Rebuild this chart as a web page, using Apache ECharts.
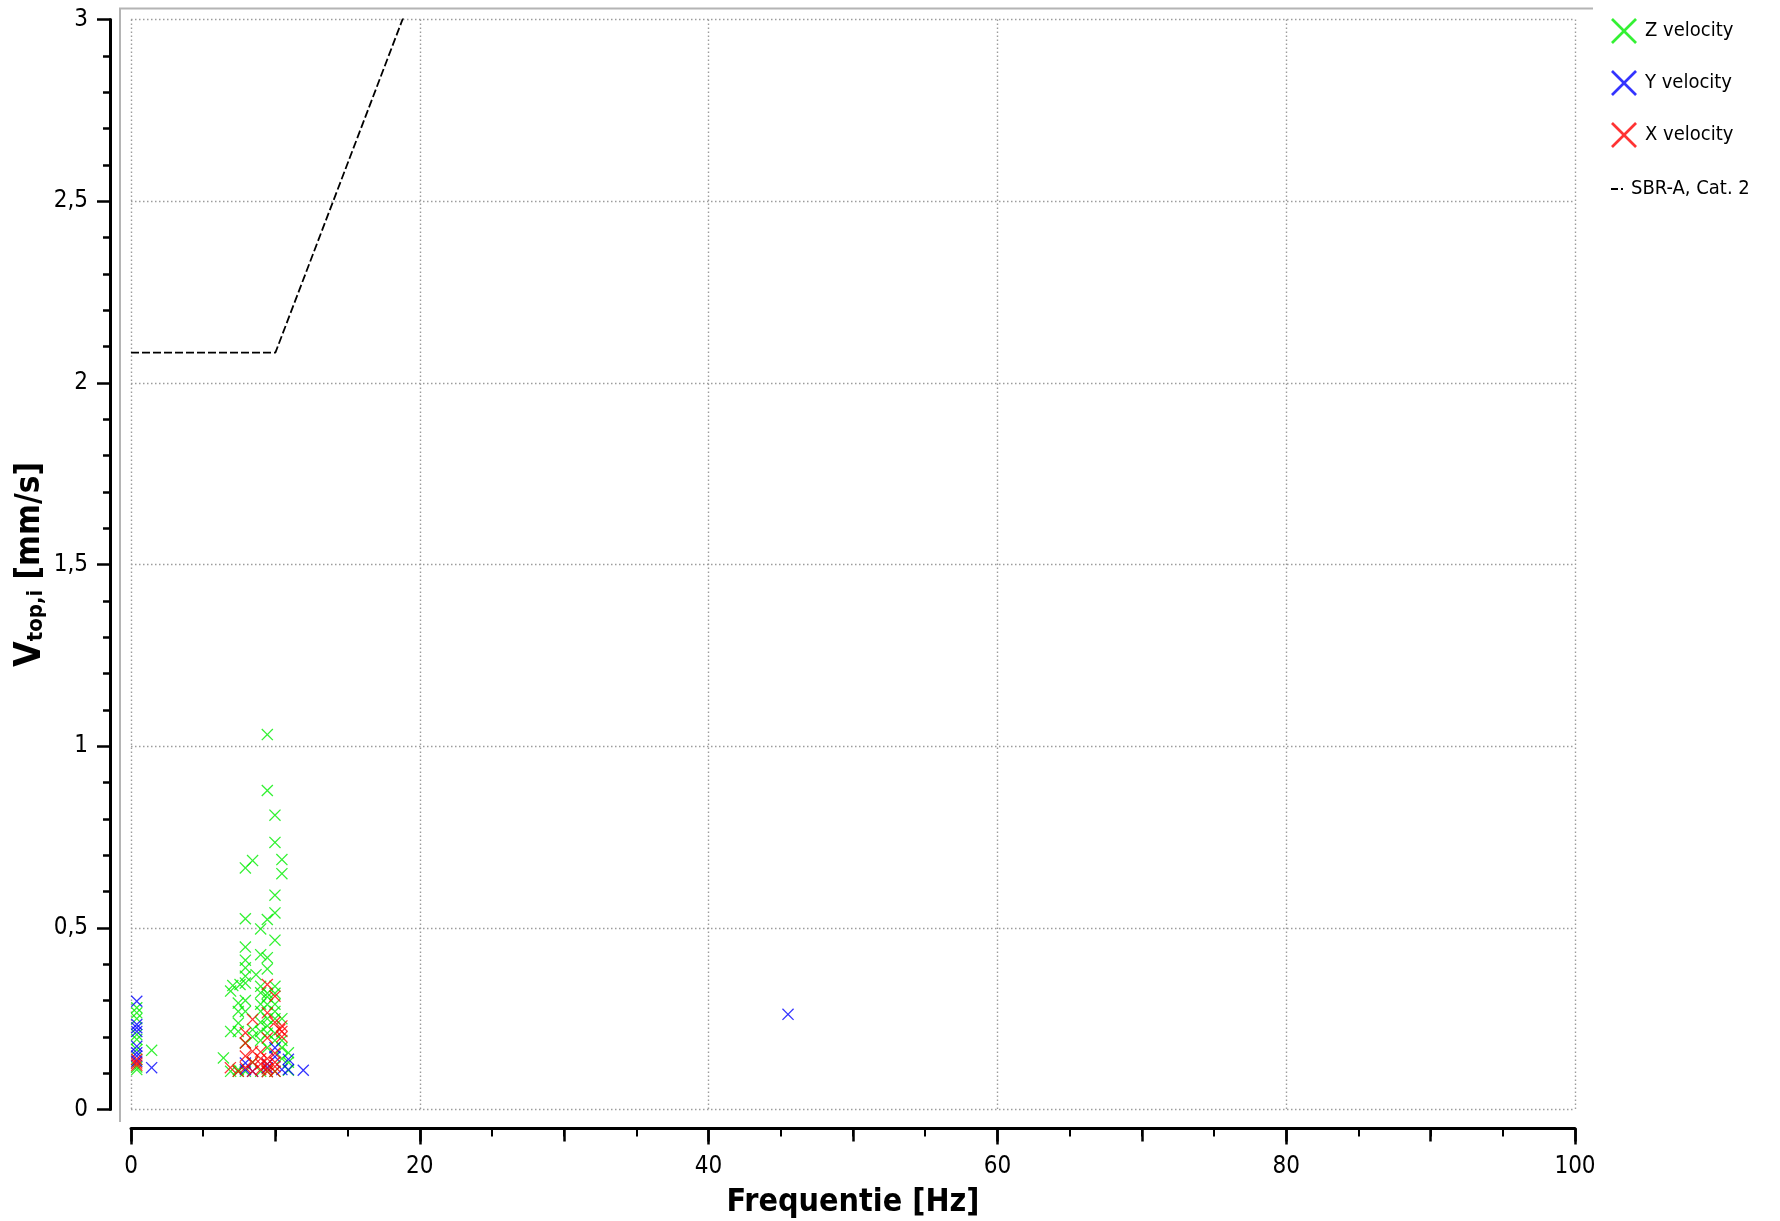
<!DOCTYPE html>
<html>
<head>
<meta charset="utf-8">
<script src="https://cdn.jsdelivr.net/npm/echarts@6.0.0/dist/echarts.min.js"></script>
<style>
    body { margin: 0; background: #fff; }
    #chart { width: 1780px; height: 1221px; }
</style>
</head>
<body>
<div id="chart"></div>
<script>
    // [frequency Hz, peak velocity mm/s]
    const zVelocity = [
        [0.4, 0.280], [0.4, 0.266], [0.4, 0.250], [0.4, 0.206], [0.4, 0.193], [0.4, 0.165], [0.4, 0.117], [0.4, 0.110], [1.43, 0.163],
        [6.4, 0.142],
        [6.9, 0.326], [6.9, 0.215], [6.9, 0.105], [7.05, 0.341],
        [7.43, 0.293], [7.43, 0.270], [7.43, 0.238], [7.43, 0.215], [7.43, 0.110], [7.55, 0.344], [7.43, 0.105],
        [7.92, 0.665], [7.92, 0.525], [7.92, 0.447], [7.92, 0.411], [7.92, 0.390], [7.92, 0.367], [7.92, 0.348], [7.92, 0.300], [7.92, 0.270], [7.92, 0.183], [7.92, 0.105],
        [8.42, 0.685], [8.42, 0.200], [8.42, 0.220], [8.42, 0.130], [8.66, 0.371],
        [8.98, 0.497], [8.98, 0.426], [8.98, 0.339], [8.98, 0.321], [8.98, 0.290], [8.98, 0.270], [8.98, 0.240], [8.98, 0.215], [8.98, 0.190], [8.98, 0.105],
        [9.44, 1.032], [9.44, 0.878], [9.44, 0.523], [9.44, 0.418], [9.44, 0.387], [9.44, 0.320], [9.44, 0.310], [9.44, 0.289], [9.44, 0.250], [9.44, 0.230], [9.44, 0.210], [9.44, 0.170], [9.44, 0.105],
        [9.97, 0.810], [9.97, 0.735], [9.97, 0.590], [9.97, 0.541], [9.97, 0.466], [9.97, 0.339], [9.97, 0.320], [9.97, 0.290], [9.97, 0.270], [9.97, 0.250], [9.97, 0.210], [9.97, 0.190], [9.97, 0.105],
        [10.45, 0.688], [10.45, 0.649], [10.45, 0.250], [10.45, 0.190], [10.45, 0.170], [10.45, 0.140],
        [10.9, 0.156], [10.9, 0.108], [10.9, 0.130]
    ];
    const yVelocity = [
        [0.4, 0.298], [0.4, 0.234], [0.4, 0.225], [0.4, 0.215], [0.4, 0.174], [0.4, 0.156], [0.4, 0.147], [0.4, 0.133], [1.43, 0.115],
        [7.92, 0.128], [7.92, 0.110], [8.42, 0.105], [9.44, 0.115], [9.44, 0.125], [9.97, 0.170], [9.97, 0.145],
        [10.45, 0.110], [10.9, 0.138], [10.9, 0.110], [11.93, 0.108],
        [45.5, 0.262]
    ];
    const xVelocity = [
        [0.4, 0.138], [0.4, 0.128], [0.4, 0.122],
        [6.88, 0.115], [7.43, 0.105],
        [7.92, 0.211], [7.92, 0.183], [7.92, 0.147], [7.92, 0.115],
        [8.42, 0.248], [8.42, 0.160], [8.42, 0.130], [8.42, 0.105],
        [8.98, 0.158], [8.98, 0.140], [8.98, 0.125], [8.98, 0.110],
        [9.44, 0.344], [9.44, 0.266], [9.44, 0.197], [9.44, 0.140], [9.44, 0.125], [9.44, 0.112], [9.44, 0.104],
        [9.97, 0.312], [9.97, 0.240], [9.97, 0.155], [9.97, 0.130], [9.97, 0.118], [9.97, 0.105],
        [10.3, 0.220], [10.45, 0.230], [10.45, 0.215], [10.45, 0.200]
    ];
    // SBR-A guideline, category 2
    const sbrLine = [[0, 2.083], [10, 2.083], [50, 6.25], [100, 6.25]];

    const seriesNames = ['Z velocity', 'Y velocity', 'X velocity', 'SBR-A, Cat. 2'];

    const FONT = "'DejaVu Sans Condensed', 'DejaVu Sans', sans-serif";
    const CROSS = 'path://M0,0.75L0.75,0L5,4.25L9.25,0L10,0.75L5.75,5L10,9.25L9.25,10L5,5.75L0.75,10L0,9.25L4.25,5Z';
    const DASH_ICON = 'path://M0,0h7v2h-7zM10,0h2v2h-2z';

    const gridBox = { left: 131, top: 19.5, width: 1444, height: 1090, outerBoundsMode: 'none' };
    const gridDots = { color: '#9c9c9c', width: 1.4, type: [1.5, 2.5] };

    let chart = echarts.init(document.getElementById('chart'));

    let option = {
        animation: false,
        textStyle: { fontFamily: FONT },
        grid: [
            Object.assign({}, gridBox),
            Object.assign({}, gridBox)
        ],
        graphic: [{
            type: 'polyline',
            silent: true,
            shape: { points: [[120, 1122], [120, 8.5], [1593, 8.5]] },
            style: { stroke: '#b4b4b4', lineWidth: 2, fill: null }
        }],
        legend: [{
            data: seriesNames.slice(0, 3),
            orient: 'vertical',
            left: 1611,
            top: 18,
            padding: 0,
            itemWidth: 26,
            itemHeight: 26,
            itemGap: 26,
            textStyle: { fontFamily: FONT, fontSize: 20, color: '#000', padding: [0, 0, 0, 3] }
        }, {
            data: [{ name: seriesNames[3], icon: DASH_ICON }],
            orient: 'vertical',
            left: 1611,
            top: 179,
            padding: 0,
            itemWidth: 12,
            itemHeight: 14,
            textStyle: { fontFamily: FONT, fontSize: 20, color: '#000', padding: [0, 0, 0, 3] }
        }],
        xAxis: [{
            type: 'value',
            gridIndex: 0,
            min: 0,
            max: 100,
            interval: 20,
            offset: 19,
            name: 'Frequentie [Hz]',
            nameLocation: 'middle',
            nameGap: 58,
            nameTextStyle: { fontFamily: FONT, fontSize: 32, fontWeight: 'bold', color: '#000' },
            axisLine: { onZero: false, lineStyle: { color: '#000', width: 3 } },
            axisTick: { length: 16, lineStyle: { color: '#000', width: 2.5 } },
            minorTick: { show: true, splitNumber: 4, length: 8, lineStyle: { color: '#000', width: 2 } },
            axisLabel: { fontFamily: FONT, fontSize: 24, color: '#000', margin: 26 },
            splitLine: { show: true, lineStyle: gridDots }
        }, {
            // medium ticks every 10 Hz
            type: 'value',
            gridIndex: 1,
            min: 0,
            max: 100,
            interval: 10,
            offset: 19,
            axisLine: { show: false, onZero: false },
            axisTick: { length: 13, lineStyle: { color: '#000', width: 2.5 } },
            axisLabel: { show: false },
            splitLine: { show: false }
        }],
        yAxis: [{
            type: 'value',
            gridIndex: 0,
            min: 0,
            max: 3,
            interval: 0.5,
            offset: 21,
            name: '{v|V}{s|top,i}{u| [mm/s]}',
            nameLocation: 'middle',
            nameRotate: 90,
            nameGap: 62,
            nameMoveOverlap: false,
            nameTextStyle: {
                fontFamily: FONT,
                fontWeight: 'bold',
                color: '#000',
                rich: {
                    v: { fontFamily: FONT, fontSize: 37, fontWeight: 'bold', color: '#000', lineHeight: 36 },
                    s: { fontFamily: FONT, fontSize: 22, fontWeight: 'bold', color: '#000', lineHeight: 22, padding: [12, 0, 0, 0] },
                    u: { fontFamily: FONT, fontSize: 33, fontWeight: 'bold', color: '#000', lineHeight: 36 }
                }
            },
            axisLine: { show: true, onZero: false, lineStyle: { color: '#000', width: 3 } },
            axisTick: { show: true, length: 13, lineStyle: { color: '#000', width: 2.5 } },
            minorTick: { show: true, splitNumber: 5, length: 7, lineStyle: { color: '#000', width: 2.5 } },
            axisLabel: {
                fontFamily: FONT,
                fontSize: 24,
                color: '#000',
                margin: 22,
                formatter: v => String(v).replace('.', ',')
            },
            splitLine: { show: true, lineStyle: gridDots }
        }, {
            type: 'value',
            gridIndex: 1,
            min: 0,
            max: 3,
            show: false
        }],
        series: [{
            name: seriesNames[0],
            type: 'scatter',
            data: zVelocity,
            symbol: CROSS,
            symbolSize: 12,
            itemStyle: { color: '#00ee00' }
        }, {
            name: seriesNames[1],
            type: 'scatter',
            data: yVelocity,
            symbol: CROSS,
            symbolSize: 12,
            itemStyle: { color: '#0000ff' }
        }, {
            name: seriesNames[2],
            type: 'scatter',
            data: xVelocity,
            symbol: CROSS,
            symbolSize: 12,
            itemStyle: { color: '#ff0000' }
        }, {
            name: seriesNames[3],
            type: 'line',
            data: sbrLine,
            symbol: 'none',
            itemStyle: { color: '#000' },
            lineStyle: { color: '#000', width: 1.8, type: [8, 3] }
        }]
    };

    chart.setOption(option);
</script>
</body>
</html>
